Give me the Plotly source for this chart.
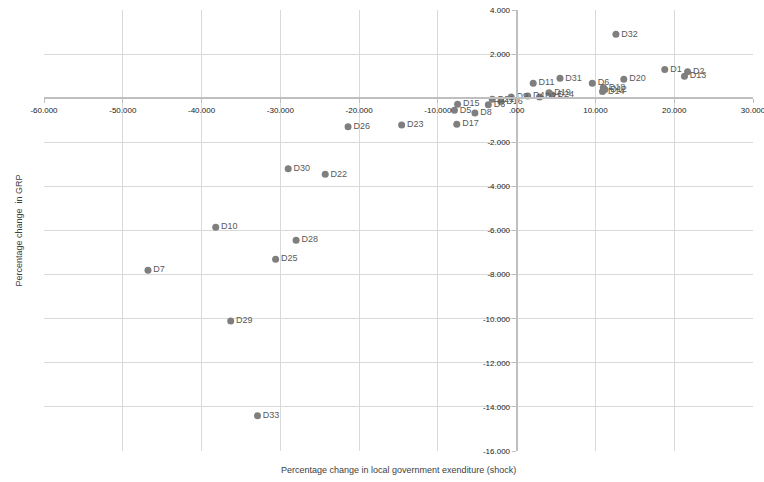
import plotly.graph_objects as go

labels = ["D1", "D2", "D3", "D4", "D5", "D6", "D7", "D8", "D9", "D10", "D11",
          "D12", "D13", "D14", "D15", "D16", "D17", "D18", "D19", "D20", "D21",
          "D22", "D23", "D24", "D25", "D26", "D27", "D28", "D29", "D30", "D31",
          "D32", "D33"]
shock = [18.8, 21.7, -3.6, 1.4, -7.9, 9.6, -46.8, -5.3, -0.7, -38.2, 2.1,
         11.2, 21.3, 10.9, -7.5, -2.0, -7.6, 11.0, 4.1, 13.6, -3.1,
         -24.3, -14.6, 4.5, -30.6, -21.4, 2.9, -28.0, -36.3, -29.0, 5.5,
         12.6, -32.9]
grp = [1.30, 1.20, -0.30, 0.10, -0.55, 0.68, -7.80, -0.67, 0.05, -5.85, 0.68,
       0.40, 1.00, 0.30, -0.27, -0.15, -1.18, 0.48, 0.25, 0.86, -0.05,
       -3.45, -1.22, 0.15, -7.30, -1.30, 0.05, -6.44, -10.10, -3.20, 0.90,
       2.90, -14.40]

x_ticks = [-60, -50, -40, -30, -20, -10, 0, 10, 20, 30]
x_tick_text = ["-60.000", "-50.000", "-40.000", "-30.000", "-20.000", "-10.000",
               ".000", "10.000", "20.000", "30.000"]
y_ticks = [4, 2, 0, -2, -4, -6, -8, -10, -12, -14, -16]
y_tick_text = ["4.000", "2.000", "", "-2.000", "-4.000", "-6.000", "-8.000",
               "-10.000", "-12.000", "-14.000", "-16.000"]

x_title = "Percentage change in local government exenditure (shock)"
y_title = "Percentage change  in GRP"

tick_font = dict(size=8, color="#1a1a1a", family="Liberation Sans")

fig = go.Figure(go.Scatter(
    x=shock, y=grp, mode="markers+text", text=labels,
    textposition="middle right",
    textfont=dict(family="Liberation Sans", size=9, color="#595959"),
    marker=dict(size=7, color="#7f7f7f"),
    cliponaxis=False,
))

fig.update_layout(
    width=764, height=482,
    margin=dict(l=44, r=11, t=10, b=31, autoexpand=False),
    paper_bgcolor="white", plot_bgcolor="white",
    showlegend=False,
    font=dict(family="Liberation Sans", color="#262626"),
    xaxis=dict(
        range=[-60, 30], tickvals=x_ticks, ticktext=x_tick_text,
        anchor="free", position=0.8, automargin=False,
        ticklabeloverflow="allow",
        showgrid=True, gridcolor="#d9d9d9", gridwidth=1,
        zeroline=False, showline=True, linecolor="#bfbfbf", linewidth=2,
        ticks="outside", ticklen=4, tickcolor="#bfbfbf",
        tickfont=tick_font,
    ),
    yaxis=dict(
        range=[-16, 4], tickvals=y_ticks, ticktext=y_tick_text,
        anchor="free", position=60 / 90, automargin=False,
        ticklabeloverflow="allow",
        showgrid=True, gridcolor="#d9d9d9", gridwidth=1,
        zeroline=False, showline=True, linecolor="#bfbfbf", linewidth=2,
        ticks="outside", ticklen=4, tickcolor="#bfbfbf",
        tickfont=tick_font,
    ),
    annotations=[
        dict(text=x_title, xref="paper", yref="paper", x=0.5, y=0,
             yshift=-19, showarrow=False, xanchor="center", yanchor="middle",
             font=dict(size=9, color="#404040")),
        dict(text=y_title, xref="paper", yref="paper", x=0, y=0.5,
             xshift=-26, showarrow=False, textangle=-90,
             xanchor="center", yanchor="middle",
             font=dict(size=9, color="#404040")),
    ],
)

fig.write_html("out.html",
               config={"displayModeBar": False},
               post_script="document.body.style.margin='0px';document.body.style.padding='0px';")
